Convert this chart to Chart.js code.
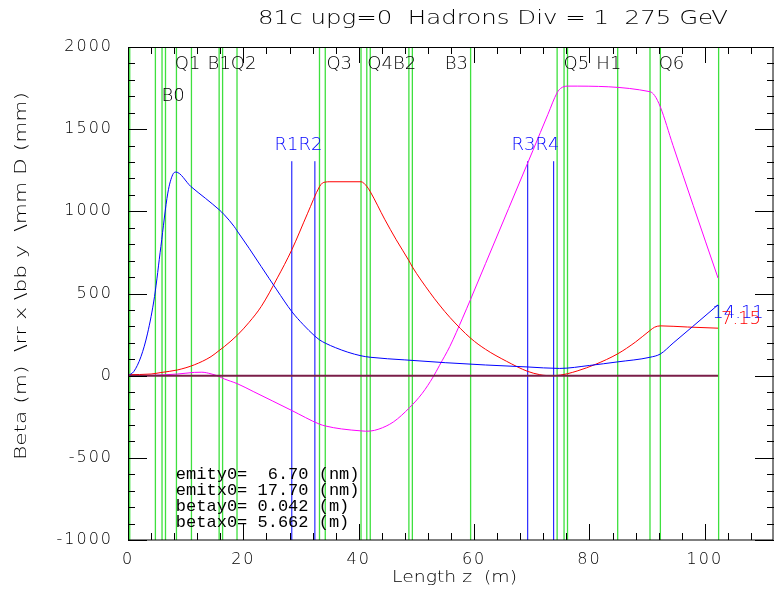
<!DOCTYPE html>
<html><head><meta charset="utf-8">
<script src="https://cdn.jsdelivr.net/npm/chart.js@4/dist/chart.umd.min.js"></script>
<style>html,body{margin:0;padding:0;background:#fff}canvas{display:block}</style>
</head><body>
<canvas id="c" width="774" height="592"></canvas>
<script>
// ---------- text ----------
const titleText = '81c upg=0  Hadrons Div = 1  275 GeV';
const xTitle = 'Length z  (m)';
const yTitle = 'Beta (m)  \\rr x \\bb y  \\mm D (mm)';
const infoLines = ['emity0=  6.70 (nm)', 'emitx0= 17.70 (nm)', 'betay0= 0.042 (m)', 'betax0= 5.662 (m)'];

// ---------- axes ----------
const xMin = 0, xMax = 112, xStep = 20, xMinorStep = 4;
const yMin = -1000, yMax = 2000, yStep = 500, yMinorStep = 100;

// ---------- beta y (blue) ----------
const betaYs = [0, 1, 2.25, 3.4, 4.6, 5.7, 6.9, 7.75, 8.3, 10.9, 13.4, 15.8, 16.7, 18.4, 18.9, 21, 23.1, 25.8, 28.4, 30.4, 32.3, 33.2, 34.2, 36, 38.1, 40.4, 42, 48, 55, 62, 69.3, 74.8, 80, 84.9, 90.5, 92.3, 94.5, 97.9, 102.3];
const betaYv = [0, 25, 116, 259, 482, 786, 1111, 1223, 1239, 1151, 1080, 1010, 979, 908, 882, 775, 664, 522, 390, 310, 244, 218, 198, 170, 143, 121, 112, 96, 79, 65, 53, 44, 62, 84, 112, 132, 198, 299, 431];

// ---------- beta x (red) ----------
const betaXs = [0, 4, 5.7, 8.6, 11.5, 14.4, 15.8, 16.7, 19.0, 21, 23.1, 25.9, 28.4, 31.1, 33.2, 33.7, 34.2, 35, 40.4, 41.4, 42, 44.5, 46.5, 48.7, 49.3, 52.3, 54, 55.8, 59.4, 62, 65.6, 69.3, 71.4, 72.5, 73.6, 75, 76.2, 78, 81, 84.9, 88, 90.5, 91.3, 92.3, 97, 102.3];
const betaXv = [6, 10, 19, 35, 66, 116, 153, 177, 248, 325, 421, 595, 766, 985, 1150, 1172, 1178, 1180, 1180, 1152, 1120, 952, 827, 700, 662, 508, 430, 355, 228, 160, 88, 26, 6, 1, 0, 4, 12, 30, 68, 133, 205, 275, 295, 303, 296, 289];

// ---------- dispersion (magenta) ----------
const dispS = [0, 4, 8.6, 11.5, 12.8, 14.4, 15.8, 16.7, 17.8, 18.9, 21.7, 25, 28.4, 33.2, 34.2, 37, 40.4, 41.2, 42, 43.5, 46, 48.8, 51, 52.9, 54, 55.8, 58, 59.4, 62, 66, 70.2, 72.8, 74.4, 75, 75.6, 76.2, 90.5, 91.3, 92.3, 94.5, 98, 102.3];
const dispV = [0, 2, 10, 20, 21, 11, -5, -20, -34, -48, -96, -153, -212, -295, -306, -324, -336, -338, -337, -325, -282, -195, -108, -8, 62, 178, 350, 465, 683, 1018, 1370, 1590, 1722, 1748, 1759, 1762, 1728, 1705, 1635, 1400, 1035, 594];

// ---------- orbit line ----------
const orbitS = [0, 102.3];
const orbitV = [0, 0];

// ---------- element boundaries (green) ----------
const elemX = [0.3, 4.75, 5.9, 6.5, 8.4, 11.0, 15.8, 16.4, 18.9, 33.2, 34.2, 40.4, 41.4, 42.0, 48.7, 49.3, 59.4, 74.4, 75.6, 76.2, 84.9, 90.5, 92.3, 102.4];
// ---------- markers R1..R4 (blue) ----------
const markX = [28.4, 32.4, 69.3, 73.8];
const markTop = 1305;

// ---------- element labels ----------
const labText = ['Q1', 'B1Q2', 'Q3', 'Q4B2', 'B3', 'Q5', 'H1', 'Q6', 'B0', 'R1R2', 'R3R4'];
const labX    = [8.1, 13.8, 34.4, 41.5, 54.9, 75.5, 81.2, 92.0, 5.8, 25.4, 66.5];
const labY    = [1892, 1892, 1892, 1892, 1892, 1892, 1892, 1892, 1697, 1399, 1399];
const labCol  = ['#000', '#000', '#000', '#000', '#000', '#000', '#000', '#000', '#000', '#0000ff', '#0000ff'];

// end values
const endText = ['14.11', '7.15'];
const endX = [101.3, 102.8];
const endY = [382, 340];
const endCol = ['#0000ff', '#ff0000'];

const infoX = 8.3;
const infoY = [-628, -725, -823, -920];

// ---------- build datasets ----------
const pts = (s, v) => s.map((x, i) => ({x: x, y: v[i]}));
const vlines = (xs, y0, y1) => { const d = []; xs.forEach(x => { d.push({x, y: y0}, {x, y: y1}, {x, y: null}); }); return d; };

const FONT = '"DejaVu Sans", "Liberation Sans", sans-serif';

const decor = {
  id: 'decor',
  afterDatasetsDraw(chart) {
    const ctx = chart.ctx, a = chart.chartArea, xs = chart.scales.x, ys = chart.scales.y;
    ctx.save();
    ctx.letterSpacing = '0px';
    ctx.strokeStyle = '#000'; ctx.lineWidth = 1;
    ctx.beginPath();
    for (let v = xMin; v <= xMax + 1e-9; v += xMinorStep) {
      const px = Math.round(xs.getPixelForValue(v)) + 0.5;
      const L = (v % xStep === 0) ? 16 : 7;
      ctx.moveTo(px, a.bottom); ctx.lineTo(px, a.bottom - L);
      ctx.moveTo(px, a.top); ctx.lineTo(px, a.top + L);
    }
    for (let v = yMin; v <= yMax + 1e-9; v += yMinorStep) {
      const py = Math.round(ys.getPixelForValue(v)) + 0.5;
      const L = (v % yStep === 0) ? 19 : 7;
      ctx.moveTo(a.left, py); ctx.lineTo(a.left + L, py);
      ctx.moveTo(a.right, py); ctx.lineTo(a.right - L, py);
    }
    ctx.stroke();
    ctx.strokeRect(a.left + 0.5, a.top + 0.5, a.right - a.left - 1.5, a.bottom - a.top - 0.5);

    // labels in data coordinates
    ctx.textBaseline = 'middle'; ctx.textAlign = 'left';
    ctx.font = '200 18px ' + FONT;
    labText.forEach((t, i) => {
      ctx.fillStyle = labCol[i];
      ctx.fillText(t, xs.getPixelForValue(labX[i]), ys.getPixelForValue(labY[i]));
    });
    endText.forEach((t, i) => {
      ctx.fillStyle = endCol[i];
      ctx.fillText(t, xs.getPixelForValue(endX[i]), ys.getPixelForValue(endY[i]));
    });
    ctx.textBaseline = 'alphabetic';
    ctx.font = '17px "Liberation Mono", "DejaVu Sans Mono", monospace';
    ctx.fillStyle = '#000';
    infoLines.forEach((t, i) => ctx.fillText(t, xs.getPixelForValue(infoX), ys.getPixelForValue(infoY[i])));
    ctx.restore();

    // titles
    const stretched = (t, cx, cy, w, size, rot) => {
      ctx.save();
      ctx.letterSpacing = '0px';
      ctx.font = '200 ' + size + 'px ' + FONT;
      ctx.fillStyle = '#000'; ctx.textAlign = 'center'; ctx.textBaseline = 'middle';
      const m = ctx.measureText(t).width;
      ctx.translate(cx, cy);
      if (rot) ctx.rotate(rot);
      ctx.scale(w / m, 1);
      ctx.fillText(t, 0, 0);
      ctx.restore();
    };
    stretched(titleText, 493, 19, 470, 19, 0);
    stretched(xTitle, 454.5, 578, 125, 16, 0);
    stretched(yTitle, 22, 276, 368, 16, -Math.PI / 2);
  }
};

const spacing = { id: 'spacing', beforeDraw(chart) { chart.ctx.letterSpacing = '2px'; } };

new Chart(document.getElementById('c'), {
  type: 'line',
  data: {
    datasets: [
      { label: 'elements', data: vlines(elemX, yMin, yMax), borderColor: '#3ee03e', borderWidth: 1.3, spanGaps: false, tension: 0, order: 10 },
      { label: 'markers', data: vlines(markX, yMin, markTop), borderColor: '#0000ff', borderWidth: 1, spanGaps: false, tension: 0, order: 9 },
      { label: 'beta x', data: pts(betaXs, betaXv), borderColor: '#ff0000', borderWidth: 1, cubicInterpolationMode: 'monotone', order: 3 },
      { label: 'beta y', data: pts(betaYs, betaYv), borderColor: '#0000ff', borderWidth: 1, cubicInterpolationMode: 'monotone', order: 2 },
      { label: 'D', data: pts(dispS, dispV), borderColor: '#ff00ff', borderWidth: 1, cubicInterpolationMode: 'monotone', order: 4 },
      { label: 'orbit', data: pts(orbitS, orbitV), borderColor: '#7a1e48', borderWidth: 2, order: 0 }
    ]
  },
  options: {
    responsive: false, animation: false, devicePixelRatio: 1,
    layout: { padding: { top: 47, left: 0, right: 0, bottom: 0 }, autoPadding: false },
    elements: { point: { radius: 0 }, line: { fill: false } },
    plugins: { legend: { display: false }, tooltip: { enabled: false }, title: { display: false } },
    scales: {
      x: {
        type: 'linear', min: xMin, max: xMax,
        afterFit: s => { s.height = 52; },
        grid: { display: false }, border: { display: false },
        ticks: { stepSize: xStep, includeBounds: false, maxRotation: 0, autoSkip: false, padding: 2, color: '#000',
          font: { family: FONT, size: 16, weight: 200 }, callback: v => String(v) }
      },
      y: {
        type: 'linear', min: yMin, max: yMax,
        afterFit: s => { s.width = 128; },
        grid: { display: false }, border: { display: false },
        ticks: { stepSize: yStep, padding: 7, color: '#000',
          font: { family: FONT, size: 16, weight: 200 }, callback: v => String(v) }
      }
    }
  },
  plugins: [spacing, decor]
});
</script>
</body></html>
